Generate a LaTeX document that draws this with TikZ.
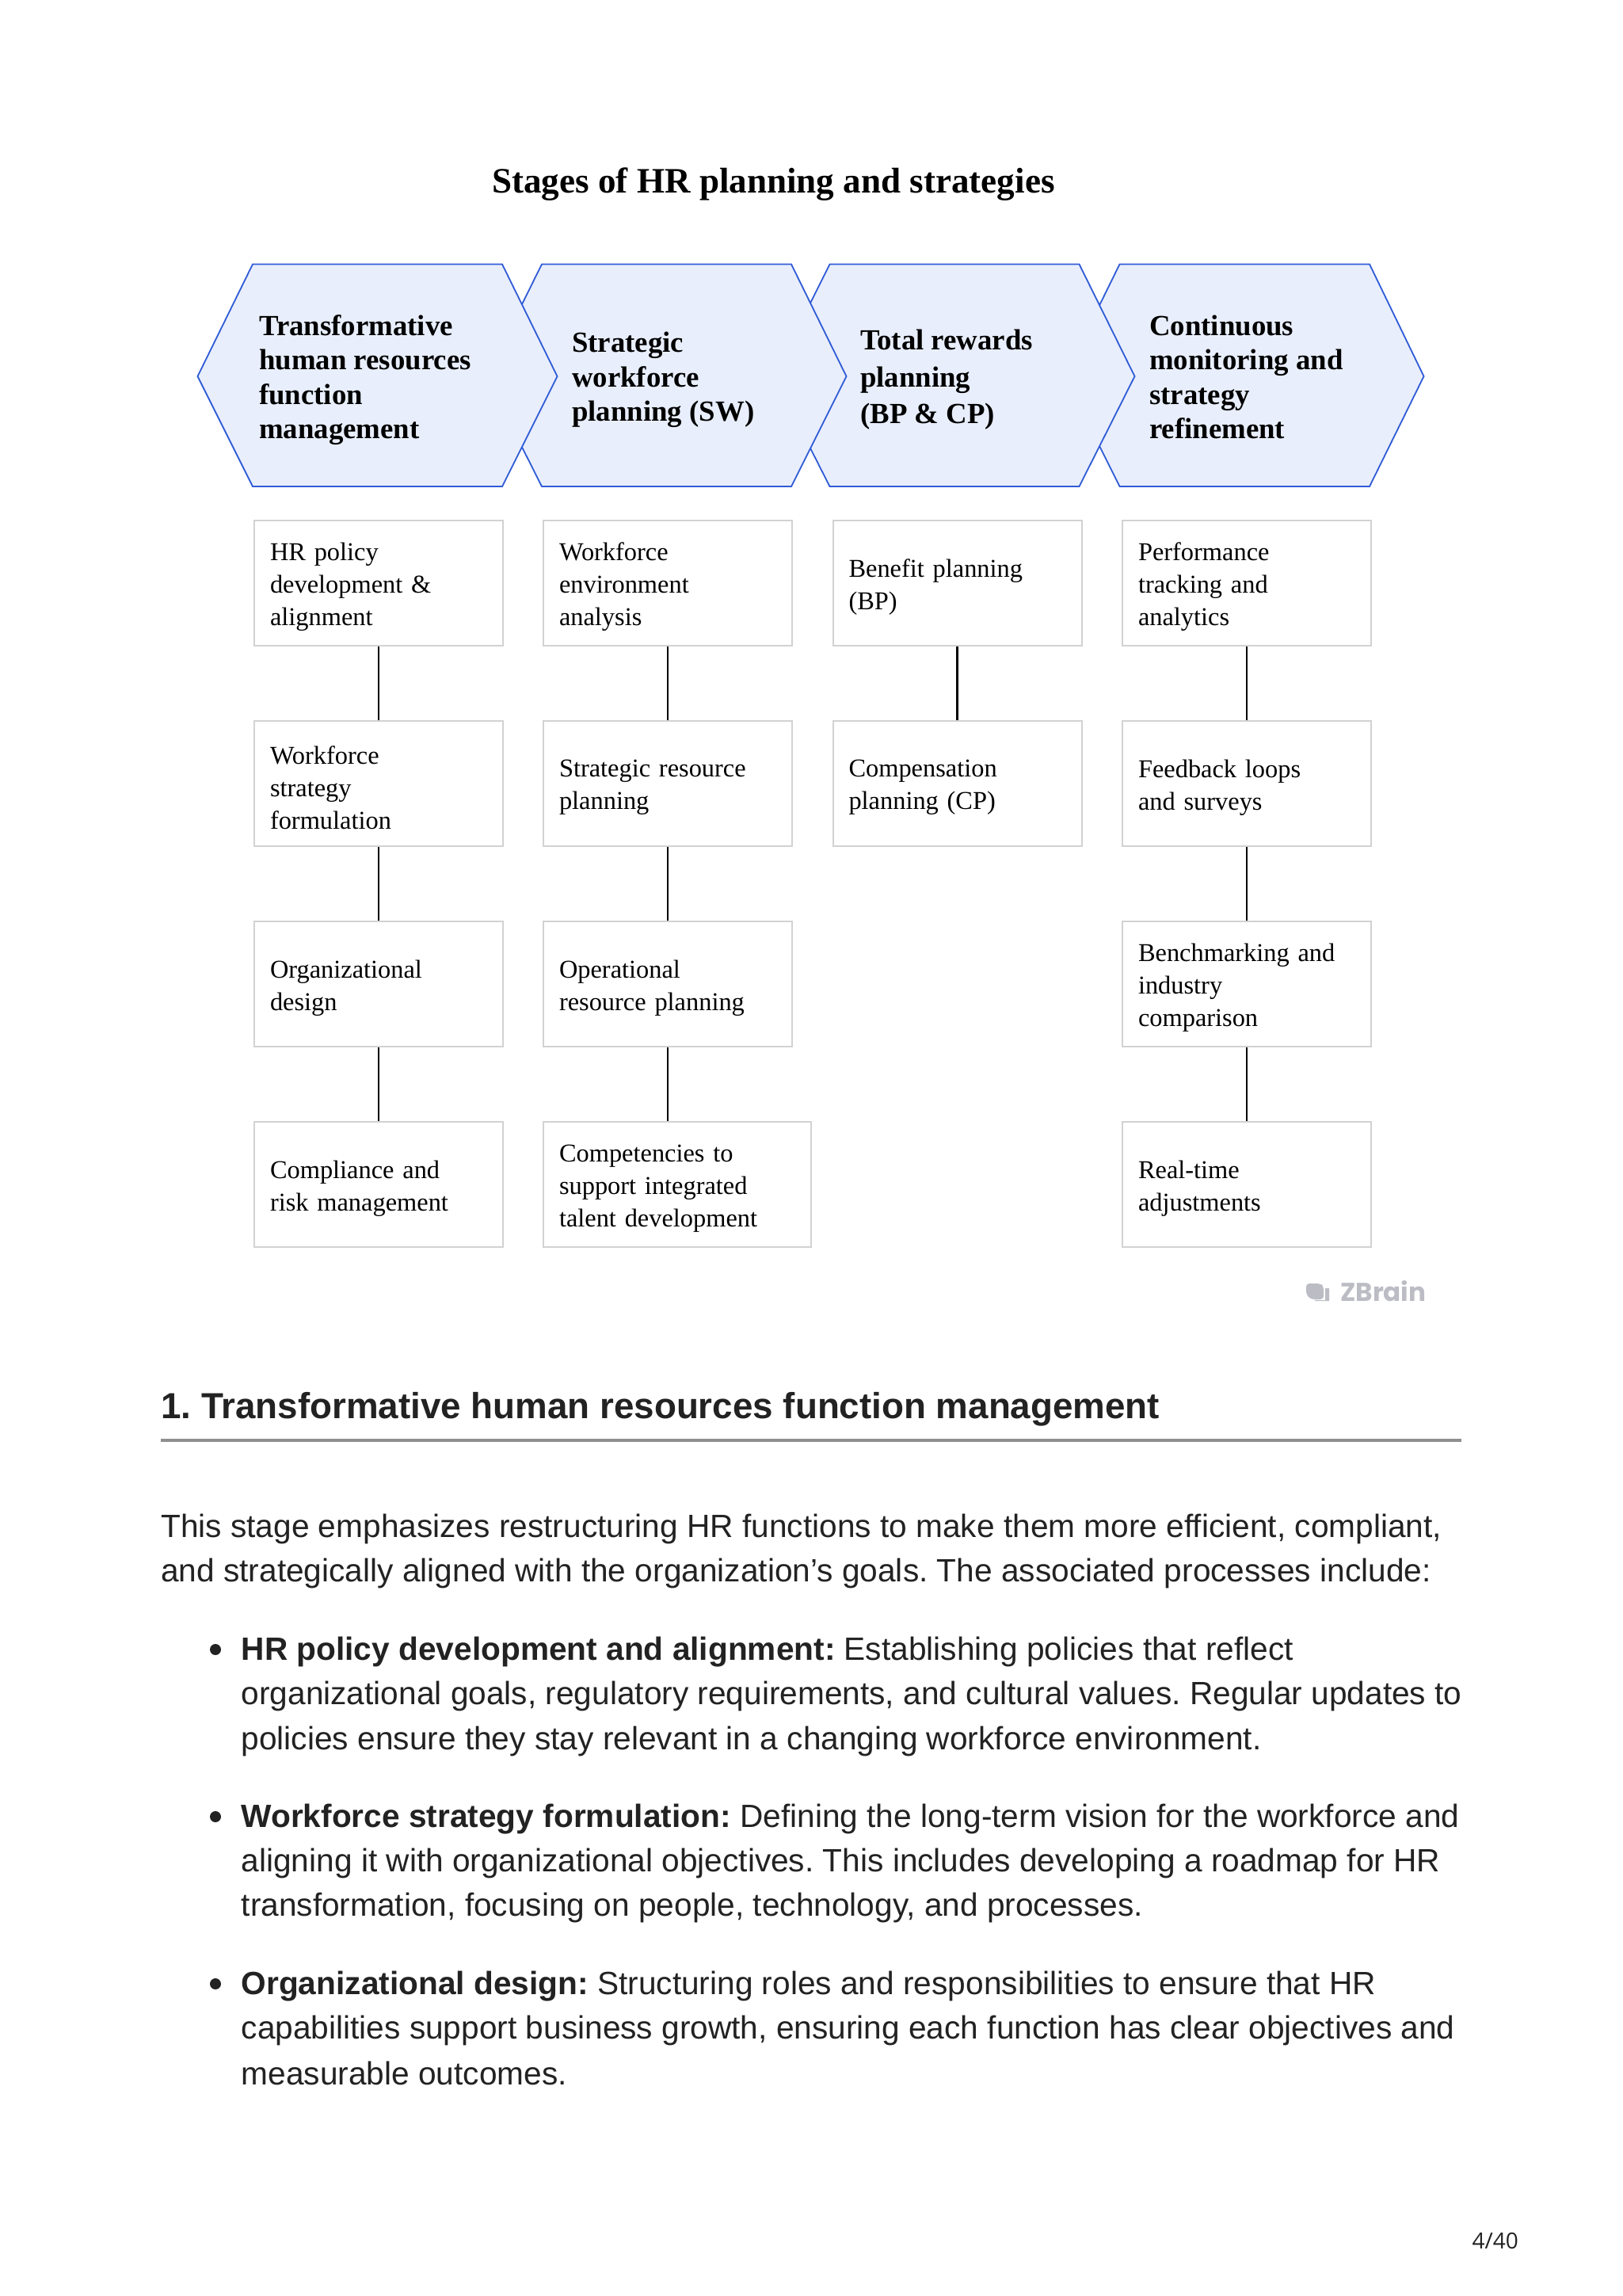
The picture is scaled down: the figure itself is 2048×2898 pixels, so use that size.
\documentclass[tikz,border=0pt]{standalone}
\usepackage{fontspec}
\setmainfont{Liberation Serif}
\setsansfont{Liberation Sans}
\newfontfamily\logofont{Poppins}
\newfontfamily\pagefont{Open Sans}
\definecolor{hexfill}{HTML}{E8EEFB}
\definecolor{hexline}{HTML}{2F5BD7}
\definecolor{boxline}{HTML}{D2D2D2}
\definecolor{ink}{HTML}{222222}
\definecolor{logogray}{HTML}{BBBCC4}
\definecolor{rulegray}{HTML}{8F8F8F}
\frenchspacing
\tikzset{
  x=1pt,y=-1pt,
  hexshape/.style={draw=hexline,fill=hexfill,line width=1.8pt,line join=miter},
  hextext/.style={anchor=west,inner sep=0pt,align=left,font=\fontsize{36.8}{43.5}\selectfont\bfseries},
  stepbox/.style={draw=boxline,line width=2pt,fill=white,anchor=north west,minimum width=314pt,minimum height=158pt,inner xsep=20pt,inner ysep=0pt,align=left,text width=274pt,font=\fontsize{32.4}{41}\selectfont,execute at end node={\par\vspace{-10pt}}},
  widebox/.style={stepbox,minimum width=338pt,text width=298pt},
  link/.style={draw=black,line width=2.2pt},
  bodyline/.style={anchor=base west,inner sep=0pt,text=ink,font=\sffamily\fontsize{40.65}{56}\selectfont},
  headline/.style={anchor=base west,inner sep=0pt,text=ink,font=\sffamily\bfseries\fontsize{45.75}{56}\selectfont},
  bulletdot/.style={circle,fill=ink,inner sep=0pt,minimum size=14pt},
}
\begin{document}
\begin{tikzpicture}
\useasboundingbox (0,0) rectangle (2048,2898);
\fill[white] (0,0) rectangle (2048,2898);
\node[anchor=base west,inner sep=0pt,font=\fontsize{45.1}{50}\selectfont\bfseries] (title) at (621,243) {Stages of HR planning and strategies};
% hexagons, last first so that each one's tip lies over its neighbour
\draw[hexshape] (1344,475) -- (1413.5,333.5) -- (1729,333.5) -- (1797.5,475) -- (1729,614) -- (1413.5,614) -- cycle;
\draw[hexshape] (977,475) -- (1047.5,333.5) -- (1362.5,333.5) -- (1432.5,475) -- (1362.5,614) -- (1047.5,614) -- cycle;
\draw[hexshape] (614,475) -- (684,333.5) -- (999,333.5) -- (1068.5,475) -- (999,614) -- (684,614) -- cycle;
\draw[hexshape] (249.5,475) -- (319,333.5) -- (634,333.5) -- (703.5,475) -- (634,614) -- (319,614) -- cycle;
\node[hextext] (h1) at (327,479.5) {Transformative\\human resources\\function\\management};
\node[hextext] (h2) at (722,479.5) {Strategic\\workforce\\planning (SW)};
\node[hextext,font=\fontsize{36.8}{46.5}\selectfont\bfseries] (h3) at (1086,479.5) {Total rewards\\planning\\(BP \& CP)};
\node[hextext] (h4) at (1451,476) {Continuous\\monitoring and\\strategy\\refinement};
% column 1
\node[stepbox] (a1) at (320,656) {HR policy\\development \&\\alignment};
\node[stepbox] (a2) at (320,909) {Workforce\\strategy\\formulation};
\node[stepbox] (a3) at (320,1162) {Organizational\\design};
\node[stepbox] (a4) at (320,1415) {Compliance and\\risk management};
% column 2
\node[stepbox] (b1) at (685,656) {Workforce\\environment\\analysis};
\node[stepbox] (b2) at (685,909) {Strategic resource\\planning};
\node[stepbox] (b3) at (685,1162) {Operational\\resource planning};
\node[widebox] (b4) at (685,1415) {Competencies to\\support integrated\\talent development};
% column 3
\node[stepbox] (c1) at (1050.5,656) {Benefit planning\\(BP)};
\node[stepbox] (c2) at (1050.5,909) {Compensation\\planning (CP)};
% column 4
\node[stepbox] (d1) at (1416,656) {Performance\\tracking and\\analytics};
\node[stepbox] (d2) at (1416,909) {Feedback loops\\and surveys};
\node[stepbox] (d3) at (1416,1162) {Benchmarking and\\industry\\comparison};
\node[stepbox] (d4) at (1416,1415) {Real-time\\adjustments};
\draw[link] (a1) -- (a2); \draw[link] (a2) -- (a3); \draw[link] (a3) -- (a4);
\draw[link] (b1) -- (b2); \draw[link] (b2) -- (b3);
\draw[link] (b3.south) -- (b3.south |- b4.north);
\draw[link] (c1) -- (c2);
\draw[link] (d1) -- (d2); \draw[link] (d2) -- (d3); \draw[link] (d3) -- (d4);
% logo
\fill[logogray,rounded corners=4pt] (1649,1620) -- (1667,1620) -- (1671,1624) -- (1671,1640) -- (1655,1640) -- (1649,1634) -- cycle;
\fill[logogray] (1673,1626) -- (1678,1626) -- (1678,1642) -- (1660,1642) -- (1660,1641) -- (1673,1641) -- cycle;
\node[anchor=base west,inner sep=0pt,text=logogray,font=\logofont\bfseries\fontsize{32.5}{36}\selectfont] (logo) at (1692,1642) {ZBrain};
% text
\node[headline] (head) at (203,1790) {1. Transformative human resources function management};
\draw[draw=rulegray,line width=3.2pt] (203,1818) -- (1845,1818);
\node[bodyline] (p1) at (203,1940.5) {This stage emphasizes restructuring HR functions to make them more efficient, compliant,};
\node[bodyline] (p2) at (203,1996.5) {and strategically aligned with the organization’s goals. The associated processes include:};
\node[bulletdot] (d1b) at (272,2082) {};
\node[bodyline] (q1) at (304.5,2095.5) {{\bfseries HR policy development and alignment:} Establishing policies that reflect};
\node[bodyline] (q2) at (304.5,2151.5) {organizational goals, regulatory requirements, and cultural values. Regular updates to};
\node[bodyline] (q3) at (304.5,2208.5) {policies ensure they stay relevant in a changing workforce environment.};
\node[bulletdot] (d2b) at (272,2293) {};
\node[bodyline] (r1) at (304.5,2306.5) {{\bfseries Workforce strategy formulation:} Defining the long-term vision for the workforce and};
\node[bodyline] (r2) at (304.5,2362.5) {aligning it with organizational objectives. This includes developing a roadmap for HR};
\node[bodyline] (r3) at (304.5,2418.5) {transformation, focusing on people, technology, and processes.};
\node[bulletdot] (d3b) at (272,2504) {};
\node[bodyline] (s1) at (304.5,2517.5) {{\bfseries Organizational design:} Structuring roles and responsibilities to ensure that HR};
\node[bodyline] (s2) at (304.5,2573.5) {capabilities support business growth, ensuring each function has clear objectives and};
\node[bodyline] (s3) at (304.5,2631.5) {measurable outcomes.};
\node[anchor=base east,inner sep=0pt,text=ink,font=\pagefont\fontsize{28}{30}\selectfont] (page) at (1917,2838) {4/40};
\end{tikzpicture}
\end{document}
